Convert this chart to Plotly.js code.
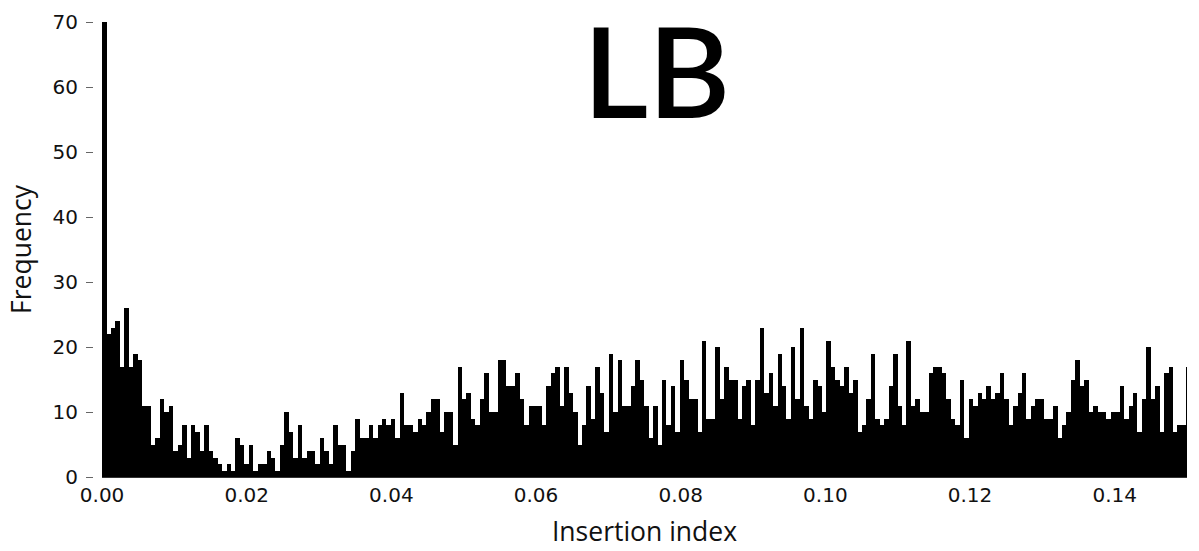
<!DOCTYPE html>
<html>
<head>
<meta charset="utf-8">
<script src="https://cdn.plot.ly/plotly-3.0.1.min.js"></script>
<style>
  html, body { margin: 0; padding: 0; background: #fff; }
  #chart { width: 1199px; height: 551px; }
</style>
</head>
<body>
<div id="chart"></div>
<script>
// Histogram of insertion index for LB: counts per bin, left to right
const binWidth = 0.0006144;
const counts = [
  70,22,23,24,17,26,17,19,18,11,11,5,6,12,10,11,4,5,8,3,8,7,4,8,4,3,2,1,2,1,
  6,
  5,2,5,1,2,2,4,3,1,5,10,7,3,8,3,4,4,2,6,4,2,8,5,5,1,4,9,6,6,8,6,
  8,9,8,9,6,13,8,8,7,9,8,10,12,12,7,10,10,5,17,12,13,9,8,12,16,10,10,18,18,14,14,16,
  12,8,11,11,11,8,14,16,17,11,17,13,10,5,8,14,9,17,13,7,19,10,18,11,11,14,18,15,11,6,11,
  5,15,8,14,7,18,15,12,12,7,21,9,9,20,12,17,15,15,9,14,15,8,15,23,13,16,11,19,14,9,20,
  12,23,11,9,15,14,10,21,17,15,14,17,13,15,7,8,12,19,9,8,9,14,19,11,8,21,11,12,10,10,16,17,
  17,16,12,9,8,15,6,12,11,13,12,14,12,13,16,12,8,11,13,16,9,11,12,12,9,9,11,6,8,10,15,18,
  14,15,10,11,10,10,9,10,10,14,9,11,13,7,12,20,12,14,7,16,17,7,8,8,17
];
const binCenters = counts.map((_, i) => (i + 0.5) * binWidth);

const xTickVals = [0, 0.02, 0.04, 0.06, 0.08, 0.10, 0.12, 0.14];
const xTickText = ["0.00", "0.02", "0.04", "0.06", "0.08", "0.10", "0.12", "0.14"];
const yTickVals = [0, 10, 20, 30, 40, 50, 60, 70];

const tickFont = { family: "DejaVu Sans, sans-serif", size: 20, color: "#111" };
const titleFont = { family: "Open Sans, Noto Sans, sans-serif", size: 26.5, color: "#111" };

const trace = {
  type: "bar",
  x: binCenters,
  y: counts,
  width: binWidth,
  marker: { color: "#000", line: { width: 0 } },
  hoverinfo: "x+y"
};

const layout = {
  width: 1199,
  height: 551,
  margin: { l: 93, r: 12, t: 22, b: 74 },
  paper_bgcolor: "#fff",
  plot_bgcolor: "#fff",
  showlegend: false,
  bargap: 0,
  xaxis: {
    domain: [0.0083, 1],
    range: [0, 0.15],
    tickvals: xTickVals,
    ticktext: xTickText,
    ticks: "",
    tickfont: tickFont,
    showgrid: false,
    zeroline: false,
    showline: true,
    linecolor: "#333",
    linewidth: 1,
    title: { text: "Insertion index", font: titleFont, standoff: 16 }
  },
  yaxis: {
    anchor: "free",
    position: 0,
    range: [0, 70],
    tickvals: yTickVals,
    ticks: "outside",
    ticklen: 7,
    tickwidth: 1,
    tickcolor: "#666",
    ticklabelstandoff: 4,
    tickfont: tickFont,
    showgrid: false,
    zeroline: false,
    showline: false,
    title: { text: "Frequency", font: titleFont, standoff: 12 }
  },
  annotations: [{
    text: "LB",
    xref: "paper", yref: "paper",
    x: 0.515, y: 0.895,
    xanchor: "center", yanchor: "middle",
    showarrow: false,
    font: { family: "Lato, Open Sans, sans-serif", size: 126, weight: 600, color: "#000" }
  }]
};

Plotly.newPlot("chart", [trace], layout, { displayModeBar: false, staticPlot: true });
</script>
</body>
</html>
